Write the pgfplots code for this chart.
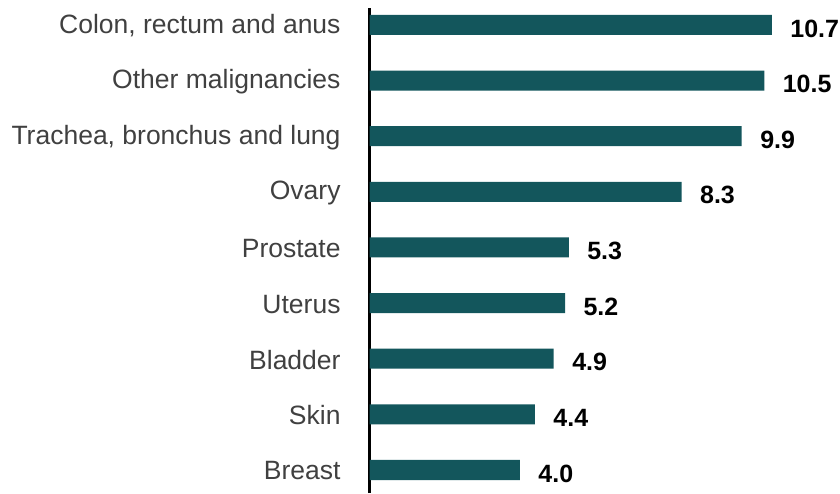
\documentclass[border=0pt]{standalone}
\usepackage{fontspec}
\setmainfont{Liberation Sans}
\usepackage{pgfplots}
\pgfplotsset{compat=1.18}
\definecolor{barc}{HTML}{13565C}
\definecolor{labc}{HTML}{404040}
\begin{document}
\begin{tikzpicture}[x=1pt,y=1pt]
\useasboundingbox (0,0) rectangle (840,493);
\begin{axis}[
  at={(369.5pt,0pt)}, anchor=south west,
  scale only axis,
  width=451.2pt, height=485pt,
  xmin=0, xmax=12,
  ymin=-0.4135, ymax=8.305,
  xbar, bar width=20pt,
  axis x line=none,
  axis y line*=left,
  y axis line style={line width=2.5pt, black},
  ytick={0,1,2,3,4,5,6,7,8},
  yticklabels={Breast,Skin,Bladder,Uterus,Prostate,Ovary,{Trachea, bronchus and lung},Other malignancies,{Colon, rectum and anus}},
  ytick style={draw=none},
  yticklabel style={font=\fontsize{26.5}{30}\selectfont, text=labc, inner sep=0pt, xshift=-24.5pt, yshift=-1pt},
  nodes near coords,
  nodes near coords style={font=\fontsize{25}{28}\selectfont\bfseries, anchor=west, xshift=15pt, yshift=-3.5pt, text=black},
  every node near coord/.append style={/pgf/number format/.cd, fixed, precision=1, fixed zerofill, assume math mode=true},
  /pgf/number format/assume math mode=true,
  clip=false,
]
\addplot[fill=barc, draw=none] coordinates {
(4.0,0) (4.4,1) (4.9,2) (5.2,3) (5.3,4) (8.3,5) (9.9,6) (10.5,7) (10.7,8)
};
\end{axis}
\end{tikzpicture}
\end{document}
